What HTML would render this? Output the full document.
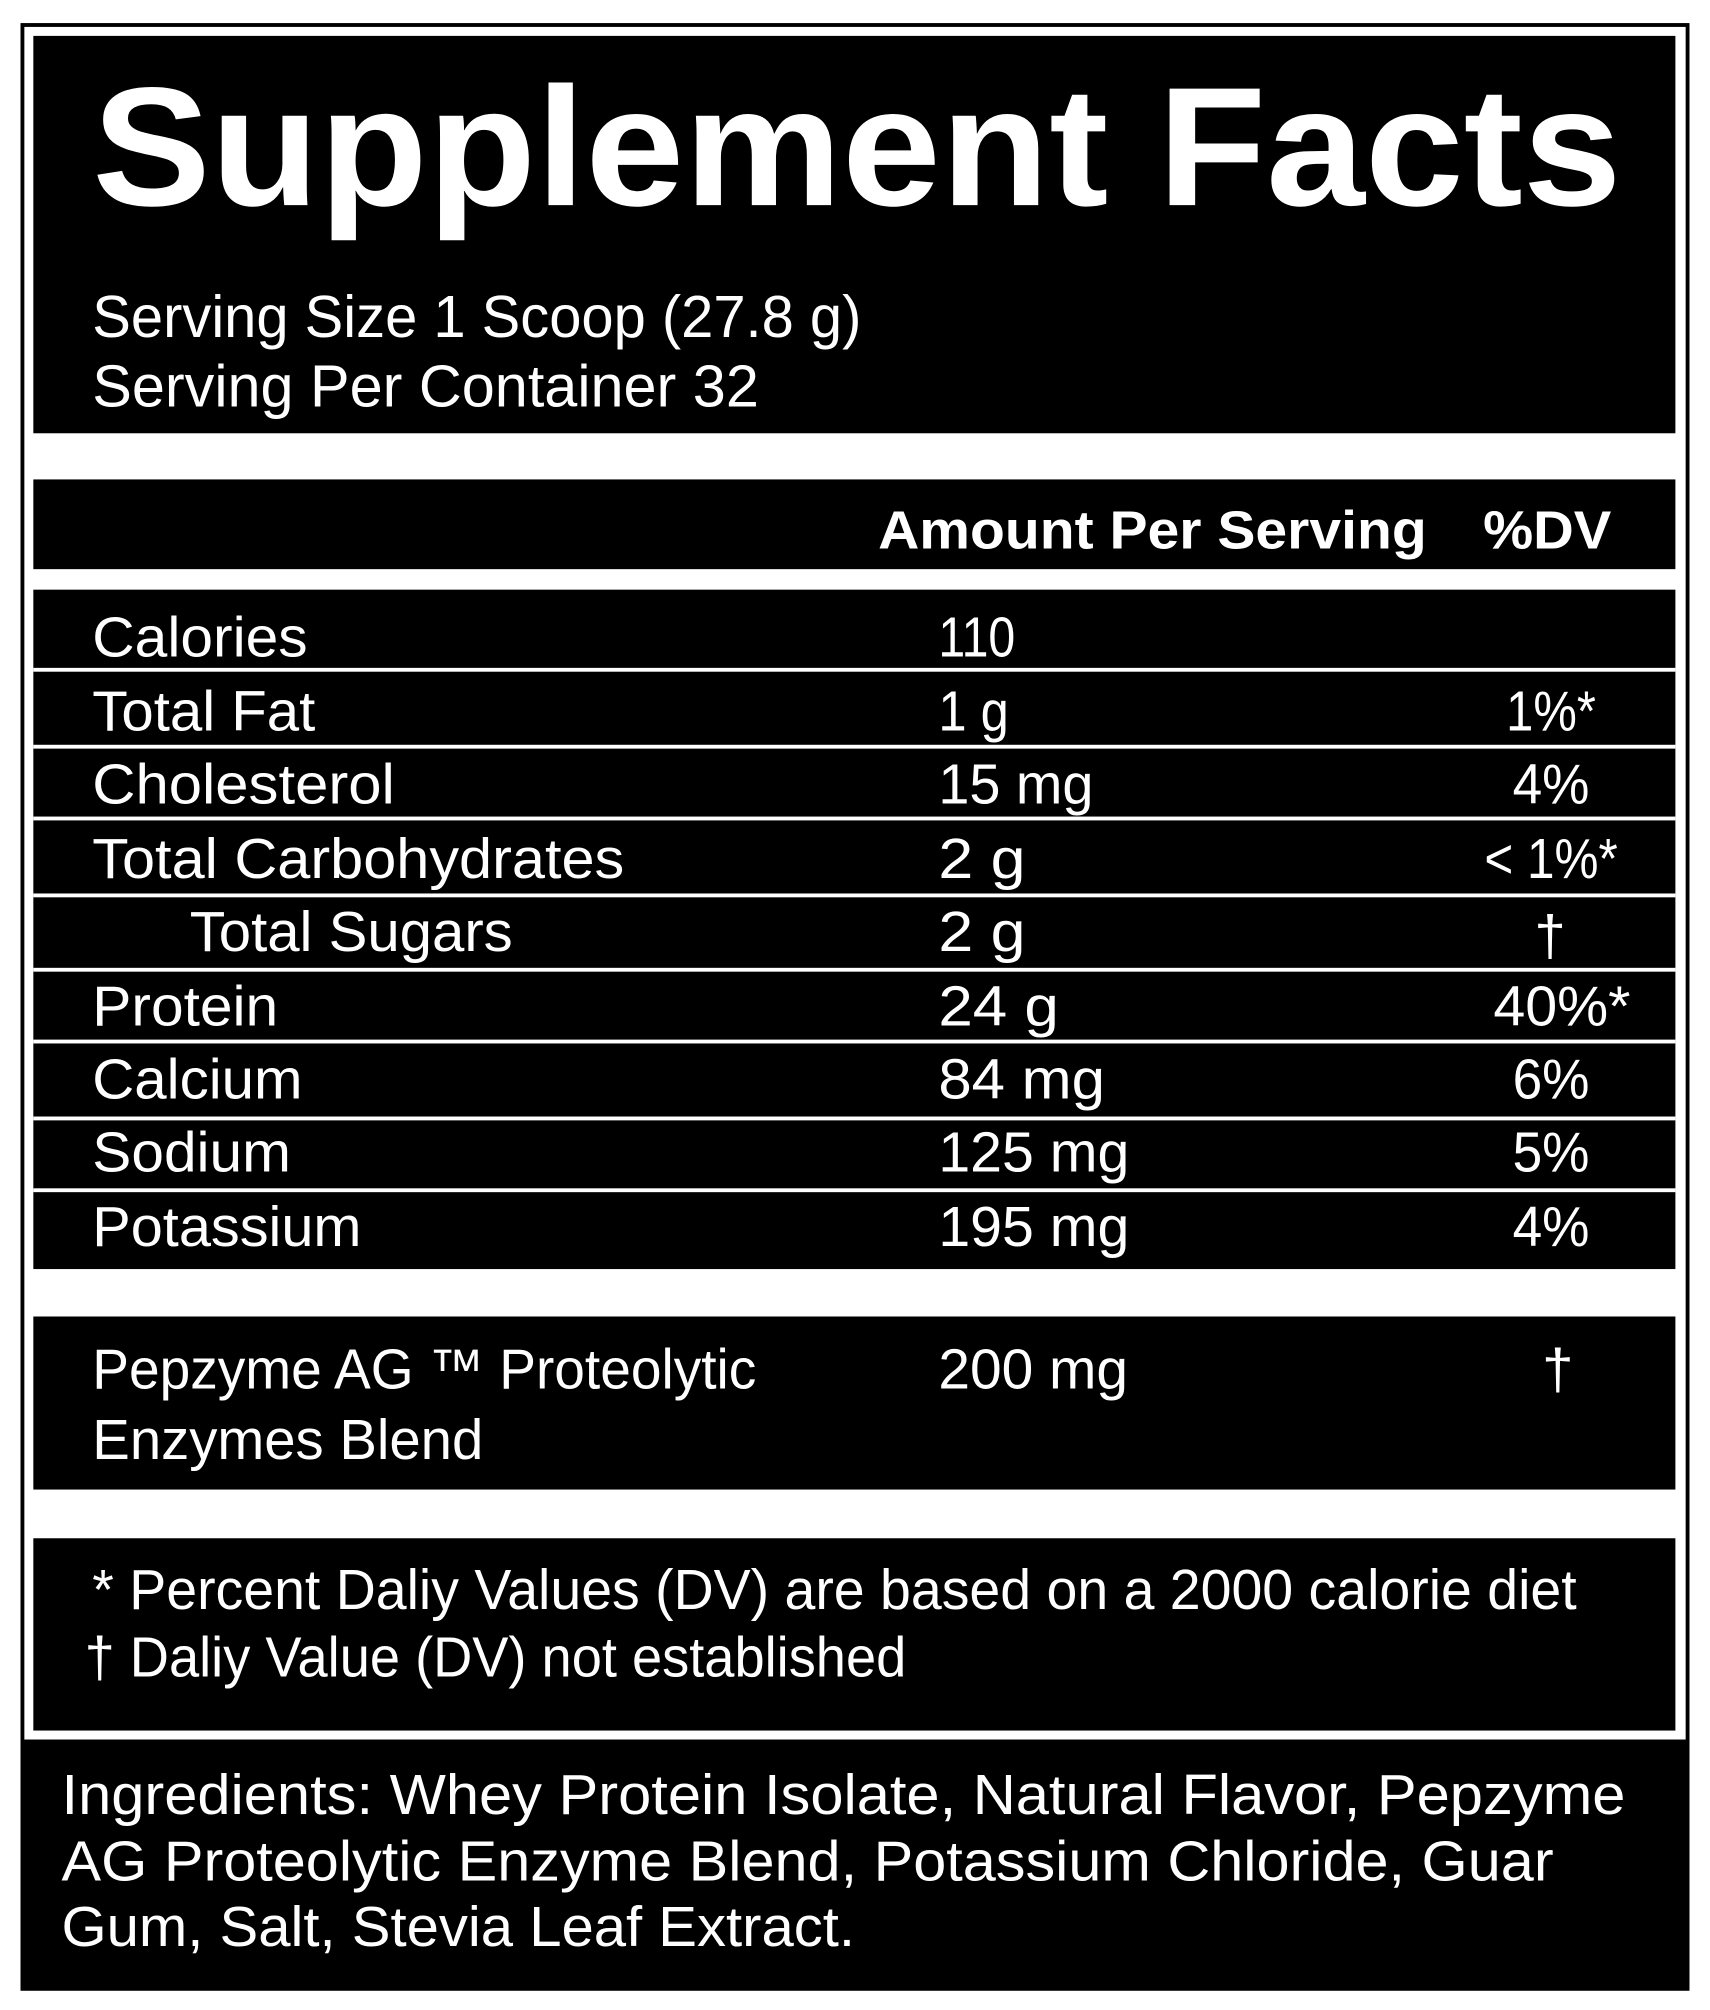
<!DOCTYPE html>
<html><head><meta charset="utf-8"><style>
html,body{margin:0;padding:0;background:#fff;}
svg{display:block;}
text{font-family:"Liberation Sans",sans-serif;fill:#fff;}
</style></head><body>
<svg width="1710" height="2010" viewBox="0 0 1334 1568" preserveAspectRatio="none" xmlns="http://www.w3.org/2000/svg">
<rect x="0" y="0" width="1334" height="1568" fill="#fff"/>
<rect x="17.5" y="19.5" width="1299" height="1532" fill="none" stroke="#000" stroke-width="3"/>
<rect x="16" y="1357" width="1302" height="195" fill="#000"/>
<rect x="26" y="28" width="1281" height="310" fill="#000"/>
<rect x="26" y="374" width="1281" height="70" fill="#000"/>
<rect x="26" y="460" width="1281" height="530" fill="#000"/>
<g fill="#fff">
<rect x="26" y="521" width="1281" height="3"/>
<rect x="26" y="581" width="1281" height="3"/>
<rect x="26" y="637" width="1281" height="3"/>
<rect x="26" y="697" width="1281" height="3"/>
<rect x="26" y="755" width="1281" height="3"/>
<rect x="26" y="811" width="1281" height="3"/>
<rect x="26" y="871" width="1281" height="3"/>
<rect x="26" y="927" width="1281" height="3"/>
</g>
<rect x="26" y="1027" width="1281" height="135" fill="#000"/>
<rect x="26" y="1200" width="1281" height="150" fill="#000"/>

<text x="72" y="160" font-size="132" font-weight="bold" textLength="1193" lengthAdjust="spacingAndGlyphs">Supplement Facts</text>
<text x="72" y="263" font-size="46" textLength="600" lengthAdjust="spacingAndGlyphs">Serving Size 1 Scoop (27.8 g)</text>
<text x="72" y="317" font-size="46" textLength="520" lengthAdjust="spacingAndGlyphs">Serving Per Container 32</text>

<text x="685" y="428" font-size="42" font-weight="bold" textLength="428" lengthAdjust="spacingAndGlyphs">Amount Per Serving</text>
<text x="1157" y="428" font-size="42" font-weight="bold" textLength="100" lengthAdjust="spacingAndGlyphs">%DV</text>

<g font-size="44">
<text x="72" y="512" textLength="168" lengthAdjust="spacingAndGlyphs">Calories</text>
<text x="72" y="570" textLength="174" lengthAdjust="spacingAndGlyphs">Total Fat</text>
<text x="72" y="627" textLength="236" lengthAdjust="spacingAndGlyphs">Cholesterol</text>
<text x="72" y="685" textLength="415" lengthAdjust="spacingAndGlyphs">Total Carbohydrates</text>
<text x="148" y="742" textLength="252" lengthAdjust="spacingAndGlyphs">Total Sugars</text>
<text x="72" y="800" textLength="145" lengthAdjust="spacingAndGlyphs">Protein</text>
<text x="72" y="857" textLength="164" lengthAdjust="spacingAndGlyphs">Calcium</text>
<text x="72" y="914" textLength="155" lengthAdjust="spacingAndGlyphs">Sodium</text>
<text x="72" y="972" textLength="210" lengthAdjust="spacingAndGlyphs">Potassium</text>

<text x="732" y="512" textLength="60" lengthAdjust="spacingAndGlyphs">110</text>
<text x="732" y="570" textLength="55" lengthAdjust="spacingAndGlyphs">1 g</text>
<text x="732" y="627" textLength="121" lengthAdjust="spacingAndGlyphs">15 mg</text>
<text x="732" y="685" textLength="68" lengthAdjust="spacingAndGlyphs">2 g</text>
<text x="732" y="742" textLength="68" lengthAdjust="spacingAndGlyphs">2 g</text>
<text x="732" y="800" textLength="94" lengthAdjust="spacingAndGlyphs">24 g</text>
<text x="732" y="857" textLength="130" lengthAdjust="spacingAndGlyphs">84 mg</text>
<text x="732" y="914" textLength="149" lengthAdjust="spacingAndGlyphs">125 mg</text>
<text x="732" y="972" textLength="149" lengthAdjust="spacingAndGlyphs">195 mg</text>

<text x="1175" y="570" textLength="70" lengthAdjust="spacingAndGlyphs">1%*</text>
<text x="1180" y="627" textLength="60" lengthAdjust="spacingAndGlyphs">4%</text>
<text x="1158" y="685" textLength="104" lengthAdjust="spacingAndGlyphs">&lt; 1%*</text>
<text x="1197" y="745">†</text>
<text x="1165" y="800" textLength="107" lengthAdjust="spacingAndGlyphs">40%*</text>
<text x="1180" y="857" textLength="60" lengthAdjust="spacingAndGlyphs">6%</text>
<text x="1180" y="914" textLength="60" lengthAdjust="spacingAndGlyphs">5%</text>
<text x="1180" y="972" textLength="60" lengthAdjust="spacingAndGlyphs">4%</text>

<text x="72" y="1083" textLength="518" lengthAdjust="spacingAndGlyphs">Pepzyme AG ™ Proteolytic</text>
<text x="72" y="1138" textLength="305" lengthAdjust="spacingAndGlyphs">Enzymes Blend</text>
<text x="732" y="1083" textLength="148" lengthAdjust="spacingAndGlyphs">200 mg</text>
<text x="1203" y="1083">†</text>

<text x="72" y="1255" textLength="1158" lengthAdjust="spacingAndGlyphs">* Percent Daliy Values (DV) are based on a 2000 calorie diet</text>
<text x="66" y="1308" textLength="641" lengthAdjust="spacingAndGlyphs">† Daliy Value (DV) not established</text>

<text x="48" y="1415" textLength="1220" lengthAdjust="spacingAndGlyphs">Ingredients: Whey Protein Isolate, Natural Flavor, Pepzyme</text>
<text x="48" y="1467" textLength="1164" lengthAdjust="spacingAndGlyphs">AG Proteolytic Enzyme Blend, Potassium Chloride, Guar</text>
<text x="48" y="1518" textLength="619" lengthAdjust="spacingAndGlyphs">Gum, Salt, Stevia Leaf Extract.</text>
</g>
</svg>
</body></html>
